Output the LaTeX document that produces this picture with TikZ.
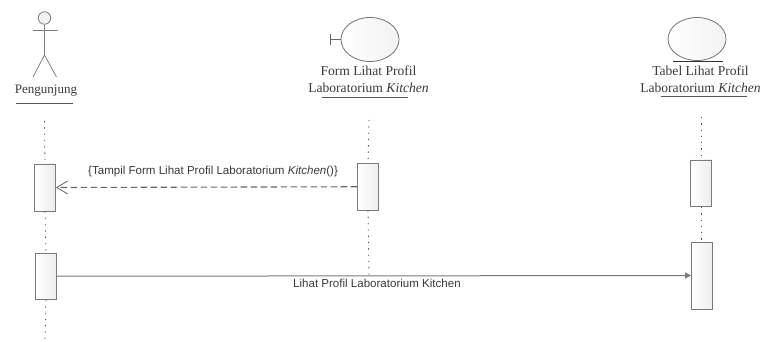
\documentclass[tikz,border=0pt]{standalone}
\usepackage{fontspec}
\setmainfont{Liberation Serif}
\setsansfont{Liberation Sans}
\usetikzlibrary{arrows.meta,shapes.geometric}
\definecolor{ln}{HTML}{7A7A7A}
\definecolor{tx}{HTML}{3A3A3A}
\tikzset{
  x=1pt,y=-1pt,
  actbox/.style={draw=ln,line width=0.9pt,rectangle,minimum width=21pt,inner sep=0pt,left color=white,right color=black!7},
  lifeln/.style={draw=black!70,line width=0.8pt,dash pattern=on 1.3pt off 5pt},
  figln/.style={draw=black!50,line width=0.8pt},
  orb/.style={draw=black!55,line width=0.8pt,ellipse,inner sep=0pt,left color=white,right color=black!5},
  ulrule/.style={draw=black!65,line width=1pt},
  lbltext/.style={font=\rmfamily\fontsize{13.6}{17}\selectfont,text=tx,align=center,inner sep=0pt},
  msgtext/.style={font=\sffamily\fontsize{11.55}{13}\selectfont,text=tx,inner sep=0pt},
}
\begin{document}
\begin{tikzpicture}
\useasboundingbox (0,0) rectangle (761,342);
% actor
\node[circle,draw=black!50,line width=0.8pt,fill=black!5,minimum size=12.5pt,inner sep=0pt] (head) at (44.5,18) {};
\coordinate (armL) at (33,30); \coordinate (armR) at (57.5,30);
\coordinate (hip) at (44.5,55); \coordinate (legL) at (33,77); \coordinate (legR) at (56.5,77);
\draw[figln] (armL) -- (armR);
\draw[figln] (head.south) -- (hip);
\draw[figln] (legL) -- (hip) -- (legR);
\node[lbltext,font=\rmfamily\fontsize{13}{17}\selectfont] (pLabel) at (46,91) {Pengunjung};
\coordinate (pU1) at (16,104); \coordinate (pU2) at (73,104);
\draw[ulrule] (pU1) -- (pU2);
% boundary
\node[orb,minimum width=58pt,minimum height=44pt] (form) at (370,39.5) {};
\coordinate (fT) at (330,39.5); \coordinate (fT1) at (330,34); \coordinate (fT2) at (330,45);
\draw[draw=black!60,line width=0.8pt] (form.west) -- (fT) (fT1) -- (fT2);
\node[lbltext] (fLabel) at (368.5,79.5) {Form Lihat Profil\\Laboratorium \textit{Kitchen}};
\coordinate (fU1) at (322,98); \coordinate (fU2) at (408,98);
\draw[ulrule] (fU1) -- (fU2);
% entity
\node[orb,minimum width=58pt,minimum height=43pt] (tabel) at (697,39) {};
\coordinate (tB1) at (673,61); \coordinate (tB2) at (723,61);
\draw[draw=black!80,line width=0.8pt] (tB1) -- (tB2);
\node[lbltext] (tLabel) at (700.5,79.5) {Tabel Lihat Profil\\Laboratorium \textit{Kitchen}};
\coordinate (tU1) at (661,97); \coordinate (tU2) at (747,97);
\draw[ulrule] (tU1) -- (tU2);
% activation boxes
\node[actbox,minimum height=47pt] (a1) at (45,187.5) {};
\node[actbox,minimum height=46.5pt] (a2) at (46,276.25) {};
\node[actbox,minimum height=46.5pt] (b1) at (368,186.75) {};
\node[actbox,minimum height=46.5pt] (c1) at (701,183.25) {};
\node[actbox,minimum height=67pt] (c2) at (702,275.5) {};
% lifelines
\coordinate (l1) at (44.5,121); \coordinate (l2) at (45,340);
\coordinate (l3) at (369,120); \coordinate (l4) at (369,275);
\coordinate (l5) at (701,117); \coordinate (l6) at (701,240);
\draw[lifeln] (l1) -- (a1.north);
\draw[lifeln] (a1.south) -- (a2.north);
\draw[lifeln] (a2.south) -- (l2);
\draw[lifeln] (l3) -- (b1.north);
\draw[lifeln] (b1.south) -- (l4);
\draw[lifeln] (l5) -- (c1.north);
\draw[lifeln] (c1.south) -- (l6);
% messages
\draw[draw=black!60,line width=1.1pt,dash pattern=on 6.5pt off 3.5pt,-{Straight Barb[length=11pt,width=13pt,line width=0.8pt]}] (b1.west) -- (a1.east);
\node[msgtext,anchor=west] (m1) at (88,172) {\{Tampil Form Lihat Profil Laboratorium \textit{Kitchen}()\}};
\draw[draw=ln,line width=1pt,-{Triangle[length=6pt,width=6pt]}] (a2.east) -- (c2.west);
\node[msgtext,anchor=west] (m2) at (293,283) {Lihat Profil Laboratorium Kitchen};
\end{tikzpicture}
\end{document}
